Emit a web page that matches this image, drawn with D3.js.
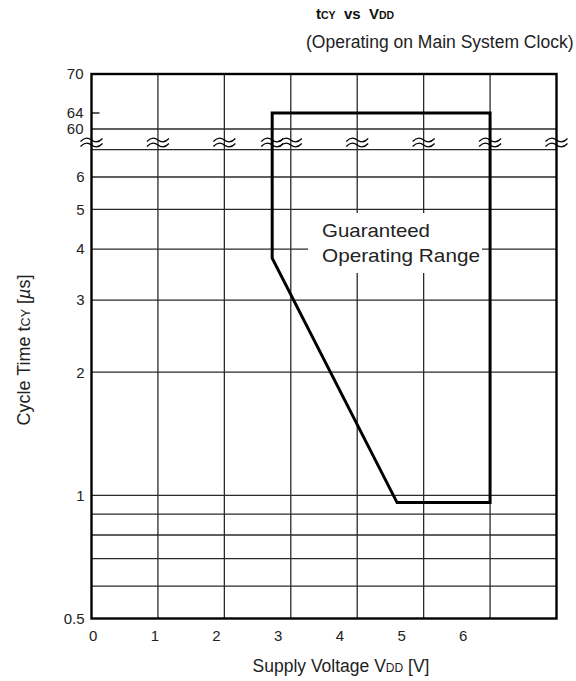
<!DOCTYPE html>
<html><head><meta charset="utf-8">
<script src="https://cdn.jsdelivr.net/npm/d3@7"></script>
<style>
html,body{margin:0;padding:0;background:#fff;}
svg{display:block;font-family:"Liberation Sans",Arial,Helvetica,sans-serif;}
</style></head>
<body>
<script>
// ---- data ----
const xGridValues = [0, 1, 2, 3, 4, 5, 6, 7];
const xTickLabels = [0, 1, 2, 3, 4, 5, 6];
const yLowerGrid = [0.6, 0.7, 0.8, 0.9, 1, 2, 3, 4, 5, 6, 7];
const yLowerLabels = [0.5, 1, 2, 3, 4, 5, 6];
const yUpperGrid = [60];
const yUpperLabels = [60, 64, 70];
const rangeVdd = [2.72, 6, 6, 4.6, 2.72];
const rangeTcy = [64, 64, 0.96, 0.96, 3.8];
const breakVdd = [0, 1, 2, 2.72, 3, 4, 5, 6, 7];

// ---- layout ----
const W = 576, H = 681;
const L = 91.5, R = 556.5, T = 74, B = 618.5;
const svg = d3.select("body").append("svg").attr("width", W).attr("height", H);

const x = d3.scaleLinear().domain([0, 7]).range([L, R]);
const xLab = d3.scaleLinear().domain([0, 7]).range([92.7, 524.4]);
const yLow = d3.scaleLog().domain([0.5, 6]).range([B, 177]);
const yUp = d3.scaleLinear().domain([60, 64, 70]).range([129, 113, T]);
const y = v => v > 7 ? yUp(v) : yLow(v);

const gridColor = "#2a2a2a";

// vertical grid
svg.append("g").selectAll("line").data(xGridValues.slice(1, -1)).join("line")
  .attr("x1", d => x(d)).attr("x2", d => x(d)).attr("y1", T).attr("y2", B)
  .attr("stroke", gridColor).attr("stroke-width", 1.3);
// horizontal grid lower
svg.append("g").selectAll("line").data(yLowerGrid).join("line")
  .attr("x1", L).attr("x2", R).attr("y1", d => yLow(d)).attr("y2", d => yLow(d))
  .attr("stroke", gridColor).attr("stroke-width", 1.3);
// horizontal grid upper
svg.append("g").selectAll("line").data(yUpperGrid).join("line")
  .attr("x1", L).attr("x2", R).attr("y1", d => yUp(d)).attr("y2", d => yUp(d))
  .attr("stroke", gridColor).attr("stroke-width", 1.3);
// short tick at 64
svg.append("line").attr("x1", L).attr("x2", L + 8).attr("y1", yUp(64)).attr("y2", yUp(64))
  .attr("stroke", "#000").attr("stroke-width", 1.3);

// label white box
svg.append("rect").attr("x", 308).attr("y", 213).attr("width", 174).attr("height", 60).attr("fill", "#fff");

// break symbols
const tilde = (cx, cy) => `M${cx-11},${cy+1.5} Q${cx-5.5},${cy-4.5} ${cx},${cy} T${cx+11},${cy-1.5}`;
const brk = svg.append("g").attr("fill", "none").attr("stroke", "#000").attr("stroke-width", 1.2);
breakVdd.forEach(v => {
  brk.append("path").attr("d", tilde(x(v), 140));
  brk.append("path").attr("d", tilde(x(v), 145));
});

// frame
svg.append("rect").attr("x", L).attr("y", T).attr("width", R - L).attr("height", B - T)
  .attr("fill", "none").attr("stroke", "#000").attr("stroke-width", 2.4);

// guaranteed operating range
const line = d3.line().x((d, i) => x(rangeVdd[i])).y((d, i) => y(rangeTcy[i]));
svg.append("path").attr("d", line(rangeVdd) + "Z")
  .attr("fill", "none").attr("stroke", "#000").attr("stroke-width", 3).attr("stroke-linejoin", "miter");

// label text
svg.append("text").attr("x", 322).attr("y", 236.5).attr("font-size", 19).attr("fill", "#222")
  .attr("textLength", 108).attr("lengthAdjust", "spacingAndGlyphs").text("Guaranteed");
svg.append("text").attr("x", 322).attr("y", 262).attr("font-size", 19).attr("fill", "#222")
  .attr("textLength", 158).attr("lengthAdjust", "spacingAndGlyphs").text("Operating Range");

// axes (labels)
const styleAxis = g => { g.select(".domain").remove(); g.selectAll("text").attr("font-size", 15).attr("fill", "#222").attr("font-family", "Liberation Sans, Arial, sans-serif"); };
svg.append("g").attr("transform", `translate(${L},0)`)
  .call(d3.axisLeft(yLow).tickValues(yLowerLabels).tickSize(0).tickPadding(7).tickFormat(d => String(d)))
  .call(styleAxis);
svg.append("g").attr("transform", `translate(${L},0)`)
  .call(d3.axisLeft(yUp).tickValues(yUpperLabels).tickSize(0).tickPadding(8).tickFormat(d => String(d)))
  .call(styleAxis);
svg.append("g").attr("transform", `translate(0,${B})`)
  .call(d3.axisBottom(xLab).tickValues(xTickLabels).tickSize(0).tickPadding(12).tickFormat(d => String(d)))
  .call(styleAxis);

// titles
const t1 = svg.append("text").attr("x", 316).attr("y", 19).attr("font-size", 15).attr("font-weight", "bold").attr("fill", "#111");
t1.append("tspan").text("t");
t1.append("tspan").attr("font-size", 10.5).text("CY");
t1.append("tspan").text("\u00a0 vs \u00a0V");
t1.append("tspan").attr("font-size", 10.5).text("DD");

svg.append("text").attr("x", 306).attr("y", 48).attr("font-size", 17.5).attr("fill", "#222")
  .text("(Operating on Main System Clock)");

const xt = svg.append("text").attr("x", 341).attr("y", 672).attr("font-size", 17.5).attr("fill", "#222").attr("text-anchor", "middle");
xt.append("tspan").text("Supply Voltage V");
xt.append("tspan").attr("font-size", 12).text("DD");
xt.append("tspan").text(" [V]");

const yt = svg.append("text").attr("transform", "translate(30,350) rotate(-90)").attr("font-size", 18).attr("fill", "#222").attr("text-anchor", "middle");
yt.append("tspan").text("Cycle Time t");
yt.append("tspan").attr("font-size", 12.5).text("CY");
yt.append("tspan").text(" [");
yt.append("tspan").attr("font-style", "italic").text("\u00b5");
yt.append("tspan").text("s]");
</script>
</body></html>
